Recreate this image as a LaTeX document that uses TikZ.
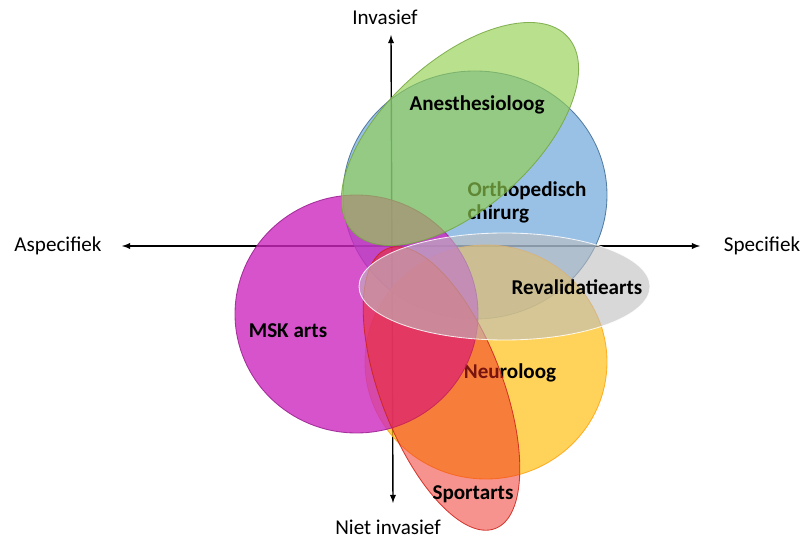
\documentclass[tikz,border=0pt]{standalone}
\usepackage{fontspec}
\setmainfont{Carlito}
\definecolor{orthoblue}{RGB}{91,155,213}
\definecolor{anesgreen}{RGB}{146,208,80}
\definecolor{mskmagenta}{RGB}{204,40,190}
\definecolor{neuroyellow}{RGB}{255,192,20}
\definecolor{sportred}{RGB}{240,40,30}
\definecolor{revagrey}{RGB}{190,190,190}
\begin{document}
\begin{tikzpicture}[x=0.025cm,y=0.025cm,
  axlab/.style={font=\fontsize{15}{18}\selectfont},
  lab/.style={font=\fontsize{15}{16.5}\selectfont\bfseries,align=left}]
\useasboundingbox (0,0) rectangle (804,540);
% axes
\coordinate (aleft) at (122,294);
\coordinate (aright) at (700,294);
\coordinate (atop) at (391,505);
\coordinate (abot) at (393,37);
\draw[line width=1pt,latex-latex] (aleft) -- (aright);
\draw[line width=1pt,latex-latex] (abot) -- (atop);
\node[axlab] (invasief) at (385,523) {Invasief};
\node[axlab] (nietinvasief) at (388,13) {Niet invasief};
\node[axlab] (aspecifiek) at (58,294) {Aspecifiek};
\node[axlab] (specifiek) at (762,294) {Specifiek};
% the fields: centre, radii, turn, colour, opacity, edge, label position, label
\foreach \cx/\cy/\rx/\ry/\rot/\col/\op/\edge/\lx/\ly/\txt [count=\i] in {
  475/345/132/124/0/orthoblue/0.62/orthoblue!70!black/527/337.5/{Orthopedisch\\chirurg},
  486/178/121/117/0/neuroyellow/0.7/neuroyellow!85!red/510/167/{Neuroloog},
  356.5/226/121.5/119/0/mskmagenta/0.8/mskmagenta!75!black/288/209/{MSK arts},
  460/406/145/74/42/anesgreen/0.65/anesgreen!80!black/477/435/{Anesthesioloog},
  441.5/151.5/61/150/21/sportred/0.5/sportred!85!black/473/46/{Sportarts},
  504.5/253.5/145.5/53.5/0/revagrey/0.6/white/577/253/{Revalidatiearts}}
{
  \filldraw[shift={(\cx,\cy)},rotate=\rot,fill=\col,fill opacity=\op,
    draw=\edge,draw opacity=0.85,line width=0.6pt] (0,0) ellipse [x radius=\rx,y radius=\ry];
  \node[lab] (field\i) at (\lx,\ly) {\txt};
}
\end{tikzpicture}
\end{document}
